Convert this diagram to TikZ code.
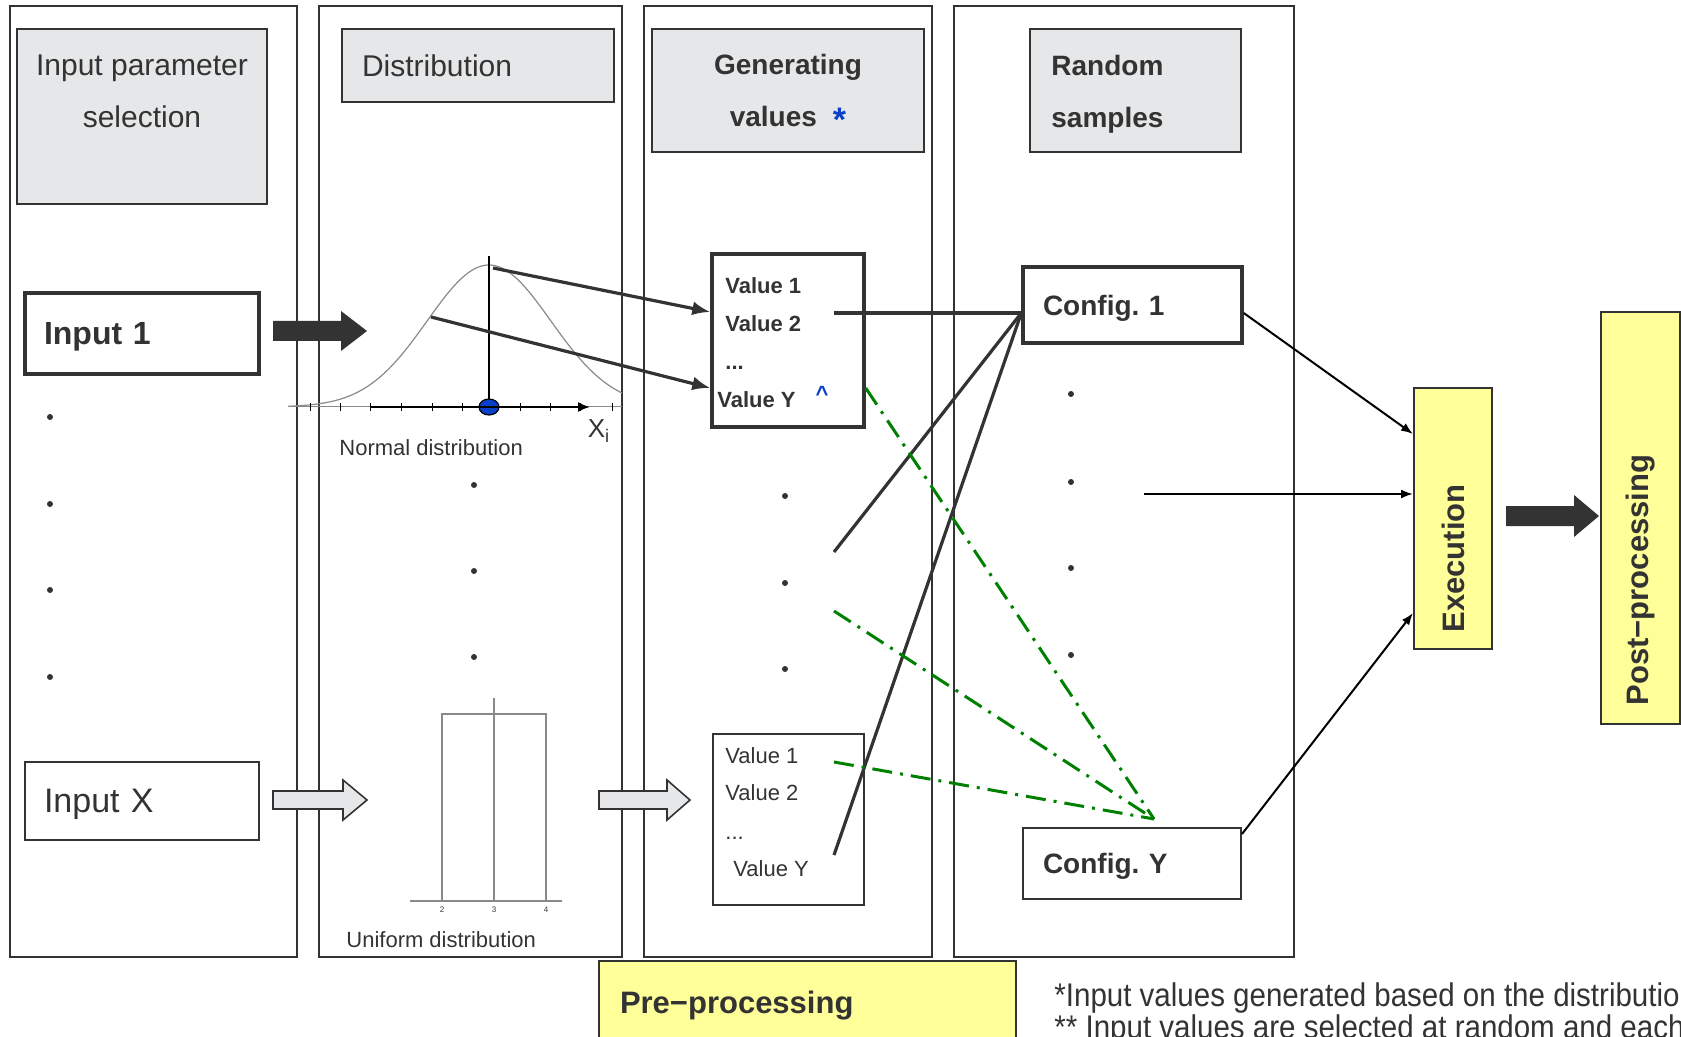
\documentclass[tikz,border=0pt]{standalone}
\usepackage{fontspec}
\setmainfont{Liberation Sans}
\newfontfamily\notefont[FakeStretch=0.9]{Liberation Sans}
\usetikzlibrary{arrows.meta,positioning}
\definecolor{ink}{HTML}{333333}
\definecolor{headfill}{HTML}{E6E7E8}
\definecolor{padyellow}{HTML}{FFFF99}
\definecolor{mcgreen}{HTML}{008000}
\definecolor{plotgray}{HTML}{8A8A8A}
\definecolor{meanblue}{HTML}{0A3FC8}
\tikzset{
  colframe/.style={draw=ink,line width=1pt,inner sep=0pt},
  headbox/.style={draw=ink,line width=1pt,fill=headfill,inner sep=0pt},
  headtxt/.style={text=ink,font=\fontsize{15}{26}\selectfont,align=center,inner sep=0pt},
  boldhead/.style={text=ink,font=\bfseries\fontsize{14}{26}\selectfont},
  strongbox/.style={draw=ink,line width=1.7pt,text=ink,inner ysep=0pt},
  thinbox/.style={draw=ink,line width=1pt,text=ink,inner ysep=0pt},
  valbold/.style={anchor=west,inner sep=0pt,text=ink,font=\bfseries\fontsize{11}{13}\selectfont},
  valplain/.style={anchor=west,inner sep=0pt,text=ink,font=\fontsize{11}{13}\selectfont},
  yelbox/.style={draw=ink,line width=1pt,fill=padyellow,inner sep=0pt},
  yeltxt/.style={text=ink,font=\bfseries\fontsize{15.5}{18}\selectfont,inner sep=0pt},
  feed/.style={draw=ink,line width=1.6pt},
  feedarrow/.style={feed,-{Latex[length=9pt,width=7pt]}},
  runarrow/.style={draw=black,line width=1pt,-{Latex[length=6pt,width=4.5pt]}},
  mixline/.style={draw=mcgreen,line width=1.5pt,dash pattern=on 10pt off 4pt on 1.5pt off 4pt},
  plottxt/.style={text=ink,font=\fontsize{11}{13}\selectfont,inner sep=0pt}
}

\begin{document}
\begin{tikzpicture}[x=0.5pt,y=-0.5pt]
\useasboundingbox (0,0) rectangle (1681,1037);
\clip (0,0) rectangle (1681,1037);

% columns
\node[colframe,minimum width=143.5pt,minimum height=475.5pt] (colinput) at (153.5,481.5) {};
\node[colframe,minimum width=151.5pt,minimum height=475.5pt] (coldist) at (470.5,481.5) {};
\node[colframe,minimum width=144pt,minimum height=475.5pt] (colgen) at (788,481.5) {};
\node[colframe,minimum width=170pt,minimum height=475.5pt] (colsamp) at (1124,481.5) {};

% headers
\node[headbox,minimum width=125pt,minimum height=87.5pt] (hdinput) at (142,116.5) {};
\node[headtxt] (hdinputtxt) at (142,91) {Input parameter\\selection};
\node[headbox,minimum width=136pt,minimum height=36.5pt,text width=116pt,inner xsep=10pt,align=left,
      text=ink,font=\fontsize{15}{18}\selectfont] (hddist) at (478,65.5) {Distribution};
\node[headbox,boldhead,minimum width=136pt,minimum height=61.5pt,align=center,text depth=0pt] (hdgen) at (788,90.5)
  {Generating\\values\hspace{8pt}\raisebox{-0.35ex}{\textcolor{meanblue}{\fontsize{17}{17}\selectfont*}}};
\node[headbox,minimum width=105.5pt,minimum height=61.5pt] (hdsamp) at (1135.5,90.5) {};
\node[boldhead,inner sep=0pt,align=left,anchor=west] (hdsamptxt) at (1051,94) {Random\\samples};

% inputs
\node[strongbox,minimum width=117pt,minimum height=40.5pt,text width=98pt,inner xsep=9.5pt,align=left,
      text depth=0pt,font=\bfseries\fontsize{16}{18}\selectfont] (in1) at (142,333.5) {Input 1};
\node[thinbox,minimum width=117pt,minimum height=39pt,text width=98pt,inner xsep=9.5pt,align=left,
      text depth=0pt,font=\fontsize{17}{19}\selectfont] (inx) at (142,801) {Input X};
\fill[ink] (50,417) circle (3) (50,504) circle (3) (50,590) circle (3) (50,677) circle (3);

% block arrows
\fill[ink] (273,321) -- (341,321) -- (341,311) -- (367,331) -- (341,351) -- (341,341) -- (273,341) -- cycle;
\draw[ink,line width=0.8pt,fill=headfill] (273,791) -- (343,791) -- (343,780) -- (367,800) -- (343,820) -- (343,809) -- (273,809) -- cycle;
\draw[ink,line width=0.8pt,fill=headfill] (599,791) -- (667,791) -- (667,780) -- (690,800) -- (667,820) -- (667,809) -- (599,809) -- cycle;
\fill[ink] (1506,506) -- (1574,506) -- (1574,495) -- (1599,516) -- (1574,537) -- (1574,526) -- (1506,526) -- cycle;

% normal distribution
\draw[plotgray,line width=0.5pt] (288,407) -- (622,407);
\draw[plotgray,line width=0.6pt,domain=288:622,samples=90] plot (\x,{407-142*exp(-0.5*((\x-489)/61.8)^2)});
\draw[black,line width=0.7pt] (489,256) -- (489,407);
\foreach \t in {310,340,370,401,432,462,520,550,580,612}
  \draw[black,line width=0.5pt] (\t,403) -- (\t,411);
\draw[fill=meanblue,draw=black,line width=0.6pt] (489,407) ellipse (10 and 8);
\draw[black,line width=1pt,-{Latex[length=6pt,width=5pt]}] (370,407) -- (590,407);
\node[plottxt,font=\fontsize{13}{15}\selectfont] (xlabel) at (599,431) {X\textsubscript{i}};
\node[plottxt,anchor=west] (normtxt) at (339,448) {Normal distribution};
\coordinate (npeak) at (493,268);
\coordinate (nside) at (431,317);
\fill[ink] (474,485) circle (3) (474,571) circle (3) (474,657) circle (3);

% uniform distribution
\draw[plotgray,line width=0.8pt] (410,901) -- (562,901);
\draw[plotgray,line width=0.8pt] (442,901) -- (442,714) -- (546,714) -- (546,901);
\draw[plotgray,line width=0.8pt] (494,698) -- (494,901);
\node[text=ink,font=\fontsize{4}{4}\selectfont,inner sep=0pt] (ulow) at (442,910) {2};
\node[text=ink,font=\fontsize{4}{4}\selectfont,inner sep=0pt] (umid) at (494,910) {3};
\node[text=ink,font=\fontsize{4}{4}\selectfont,inner sep=0pt] (uhigh) at (546,910) {4};
\node[plottxt,anchor=west] (unitxt) at (346,940) {Uniform distribution};

% generated values
\node[strongbox,minimum width=76pt,minimum height=86.5pt] (valtop) at (788,340.5) {};
\node[valbold] (vt1) at (725,286) {Value 1};
\node[valbold] (vt2) at (725,324) {Value 2};
\node[valbold] (vtd) at (725,368) {...};
\node[valbold] (vty) at (717,400) {Value Y};
\node[inner sep=0pt,text=meanblue,font=\bfseries\fontsize{11}{13}\selectfont] (vtmark) at (822,394) {\textasciicircum};
\node[thinbox,minimum width=75.5pt,minimum height=85.5pt] (valbot) at (788.5,819.5) {};
\node[valplain] (vb1) at (725,756) {Value 1};
\node[valplain] (vb2) at (725,793) {Value 2};
\node[valplain] (vbd) at (725,838) {...};
\node[valplain] (vby) at (733,869) {Value Y};
\fill[ink] (785,496) circle (3) (785,583) circle (3) (785,669) circle (3);

% random samples
\node[strongbox,minimum width=109.5pt,minimum height=38pt,text width=89.5pt,inner xsep=10pt,align=left,
      text depth=0pt,font=\bfseries\fontsize{14}{16}\selectfont] (cfg1) at (1132.5,305) {Config.\ 1};
\node[thinbox,minimum width=109pt,minimum height=35.5pt,text width=89pt,inner xsep=10pt,align=left,
      text depth=0pt,font=\bfseries\fontsize{14}{16}\selectfont] (cfgy) at (1132,863.5) {Config.\ Y};
\fill[ink] (1071,394) circle (3) (1071,482) circle (3) (1071,568) circle (3) (1071,655) circle (3);

% stages
\node[yelbox,minimum width=39pt,minimum height=130.5pt] (exec) at (1453,518.5) {};
\node[yeltxt,rotate=90] (exectxt) at ([yshift=-20pt]exec.center) {Execution};
\node[yelbox,minimum width=39.5pt,minimum height=206pt] (post) at (1640.5,518) {};
\node[yeltxt,rotate=90] (posttxt) at ([yshift=-31pt]post.center) {Post−processing};
\node[yelbox,yeltxt,minimum width=208.5pt,minimum height=41pt,text width=187.5pt,inner xsep=10.5pt,
      align=left,text depth=0pt] (pre) at (807.5,1002) {Pre−processing};

% notes
\node[anchor=base west,inner sep=0pt,text=ink,font=\notefont\fontsize{16.4}{20}\selectfont] (note1) at (1054,1006)
  {*Input values generated based on the distribution};
\node[anchor=base west,inner sep=0pt,text=ink,font=\notefont\fontsize{16.4}{20}\selectfont] (note2) at (1054,1038)
  {** Input values are selected at random and each};

% connectors
\coordinate (v2out) at (834,313);
\coordinate (hub) at ([yshift=-4pt]cfg1.west);
\coordinate (freeA) at (834,552);
\coordinate (freeB) at (834,855);
\coordinate (greenA) at (834,611);
\coordinate (greenB) at (834,762);
\coordinate (gmeet) at ([xshift=11pt,yshift=4pt]cfgy.north);
\coordinate (midstart) at (1144,494);

\draw[feedarrow] (npeak) -- ([yshift=14.25pt]valtop.west);
\draw[feedarrow] (nside) -- ([yshift=-23.75pt]valtop.west);
\draw[feed] (v2out) -- (hub);
\draw[feed] (hub) -- (freeA);
\draw[feed] (hub) -- (freeB);
\draw[mixline] ([yshift=-23.75pt]valtop.east) -- (gmeet);
\draw[mixline] (greenA) -- (gmeet);
\draw[mixline] (greenB) -- (gmeet);
\draw[runarrow] ([yshift=-4pt]cfg1.east) -- ([yshift=42.25pt]exec.west);
\draw[runarrow] (midstart) -- ([yshift=12.25pt]exec.west);
\draw[runarrow] ([yshift=-3.5pt]cfgy.north east) -- ([yshift=-47.25pt]exec.west);
\end{tikzpicture}
\end{document}
